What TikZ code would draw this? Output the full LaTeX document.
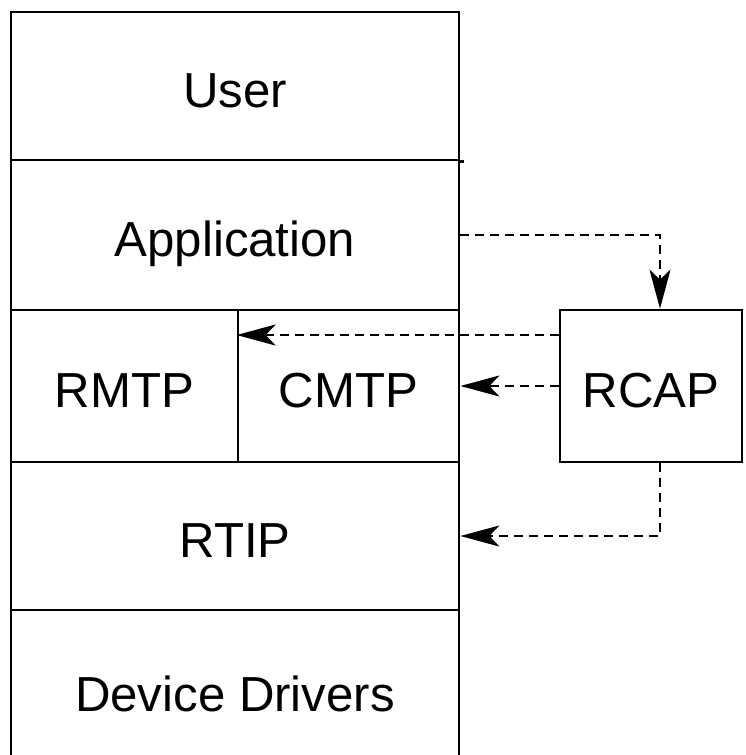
\documentclass[tikz,border=0pt]{standalone}
\usepackage{fontspec}
\setmainfont{Liberation Sans}
\usetikzlibrary{arrows.meta}

\begin{document}
\begin{tikzpicture}
  [x=0.02cm,y=-0.02cm,
   every node/.style={draw,rectangle,line width=1.6pt,inner sep=0pt,text height=0.84cm,text depth=0pt,font=\fontsize{28}{32}\selectfont},
   flow/.style={line width=1.4pt,dash pattern=on 0.18cm off 0.12cm,-{Stealth[length=0.78cm,width=0.42cm,inset=0.2cm]}}]
\useasboundingbox (0,0) rectangle (746,755);
\node (user)[minimum width=8.96cm,minimum height=2.96cm] at (235,86) {User};
  \node (app)[minimum width=8.96cm,minimum height=3cm] at (235,235) {Application};
  \node (rmtp)[minimum width=4.54cm,minimum height=3.04cm] at (124.5,386) {RMTP};
  \node (cmtp)[minimum width=4.42cm,minimum height=3.04cm] at (348.5,386) {CMTP};
  \node (rtip)[minimum width=8.96cm,minimum height=2.96cm] at (235,536) {RTIP};
  \node (drv)[minimum width=8.96cm,minimum height=3.2cm] at (235,690) {Device Drivers};
  \node (rcap)[minimum width=3.64cm,minimum height=3.04cm] at (651,386) {RCAP};
 \draw[line width=1.6pt] (user.south east) -- ++(4,0);

 \draw[flow] (app.east) -| ([xshift=0.18cm]rcap.north);
 \draw[flow] ([yshift=1.02cm]rcap.west) -- ([yshift=1.02cm]cmtp.west);
 \draw[flow] (rcap.west) -- (cmtp.east);
 \draw[flow] ([xshift=0.18cm]rcap.south) |- (rtip.east);

\end{tikzpicture}
\end{document}
